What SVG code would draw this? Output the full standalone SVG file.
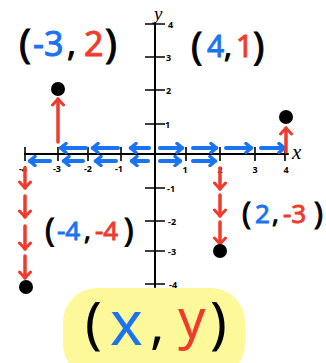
<svg xmlns="http://www.w3.org/2000/svg" width="326" height="363" viewBox="0 0 326 363">
<style>
.ax{stroke:#000;stroke-width:2;fill:none;stroke-linecap:round}
.tk{stroke:#000;stroke-width:1.6;fill:none}
.bl{stroke:#1a73f0;stroke-width:4;fill:none;stroke-linecap:round}
.rd{stroke:#ef3b2c;stroke-width:3.5;fill:none;stroke-linecap:round}
.tl{font-family:"Noto Sans",sans-serif;font-size:9px;font-weight:700;fill:#000}
.lb{font-family:"Noto Sans",sans-serif;font-weight:400;fill:#000;stroke:#000;stroke-width:0.9}
.big{font-family:"Noto Sans",sans-serif;font-weight:400;fill:#000}
.b{fill:#1a73f0;stroke:#1a73f0}.r{fill:#ef3b2c;stroke:#ef3b2c}
.big .b,.big .r{stroke:none}
.dot{fill:#000}
</style>
<defs>
<marker id="hb" markerUnits="userSpaceOnUse" markerWidth="12" markerHeight="12" refX="9" refY="6" orient="auto">
<path d="M4,1.5 L9.5,6 L4,10.5" fill="none" stroke="#1a73f0" stroke-width="3.5" stroke-linecap="round" stroke-linejoin="round"/>
</marker>
<marker id="hr" markerUnits="userSpaceOnUse" markerWidth="14" markerHeight="14" refX="10" refY="7" orient="auto">
<path d="M4,1.5 L10,7 L4,12.5" fill="none" stroke="#ef3b2c" stroke-width="3" stroke-linecap="round" stroke-linejoin="round"/>
</marker>
</defs>
<g id="highlight"><rect x="63" y="288" width="182" height="90" rx="34" fill="#fdf99b"/></g>
<g id="axes">
<line class="ax" x1="25" y1="154" x2="288" y2="154"/>
<line class="ax" x1="155" y1="23" x2="155" y2="287"/>
<g class="tk">
<path d="M25,147V161M58,147V161M88,147V161M121,147V161M186,147V161M220,147V161M255,147V161M285,147V161"/>
<path d="M145,24H165M145,57H165M145,90H165M145,124H165M145,188H165M145,221H165M145,251H165M145,284H165"/>
</g>
<g class="tl" text-anchor="middle">
<text x="23" y="172">-4</text><text x="57" y="172">-3</text><text x="88" y="172">-2</text><text x="119" y="172">-1</text>
<text x="185" y="173">1</text><text x="220" y="173">2</text><text x="255" y="173">3</text><text x="286" y="173">4</text>
</g>
<g class="tl">
<text x="168" y="28">4</text><text x="166" y="61">3</text><text x="166" y="94">2</text><text x="165" y="128">1</text>
<text x="167" y="192">-1</text><text x="168" y="225">-2</text><text x="168" y="255">-3</text><text x="169" y="288">-4</text>
</g>
<text x="292" y="159" font-family="Liberation Serif,serif" font-style="italic" font-size="21">x</text>
<text x="154" y="20" font-family="Liberation Serif,serif" font-style="italic" font-size="19">y</text>
</g>
<g id="connectors">
<g class="bl" marker-end="url(#hb)">
<path d="M149,148H131"/><path d="M118,148H93"/><path d="M86,148H61"/>
<path d="M160,148H182"/><path d="M193,148H216"/><path d="M226,148H251"/><path d="M261,148H284"/>
<path d="M148,161H132"/><path d="M116,161H96"/><path d="M83,161H64"/><path d="M50,161H30"/>
<path d="M160,161H180"/><path d="M193,161H215"/>
</g>
<g class="rd" marker-end="url(#hr)">
<path d="M58,142V99"/>
<path d="M286,152V128"/>
<path d="M220,168V189"/><path d="M220,195V216"/><path d="M220,222V244"/>
<path d="M25,168V188"/><path d="M25,196V217"/><path d="M25,226V249"/><path d="M25,256V278"/>
</g>
</g>
<g id="pt-m3-2"><circle class="dot" cx="58" cy="89" r="7"/>
<g class="lb" font-size="34">
<text x="19" y="58" font-size="40">(</text><text class="b" x="33" y="56">-3</text><text x="67" y="56">,</text><text class="r" x="84" y="56">2</text><text x="105" y="58" font-size="40">)</text>
</g></g>
<g id="pt-4-1"><circle class="dot" cx="286" cy="117" r="7"/>
<g class="lb" font-size="30">
<text x="191" y="59" font-size="38">(</text><text class="b" x="207" y="57">4</text><text x="224" y="57">,</text><text class="r" x="236" y="57">1</text><text x="253" y="59" font-size="38">)</text>
</g></g>
<g id="pt-2-m3"><circle class="dot" cx="220" cy="251" r="7"/>
<g class="lb" font-size="26">
<text x="242" y="224" font-size="30">(</text><text class="b" x="255" y="223">2</text><text x="272" y="223">,</text><text class="r" x="283" y="223">-3</text><text x="314" y="224" font-size="30">)</text>
</g></g>
<g id="pt-m4-m4"><circle class="dot" cx="26" cy="287" r="7"/>
<g class="lb" font-size="26">
<text x="45" y="242" font-size="32">(</text><text class="b" x="57" y="240">-4</text><text x="84" y="240">,</text><text class="r" x="95" y="240">-4</text><text x="124" y="242" font-size="32">)</text>
</g></g>
<g id="xy-label" class="big">
<text x="85" y="343" font-size="56">(</text><text class="b" x="110" y="345" font-size="62">x</text><text x="150" y="343" font-size="54">,</text><text class="r" x="178" y="338" font-size="54">y</text><text x="210" y="343" font-size="56">)</text>
</g>
</svg>
